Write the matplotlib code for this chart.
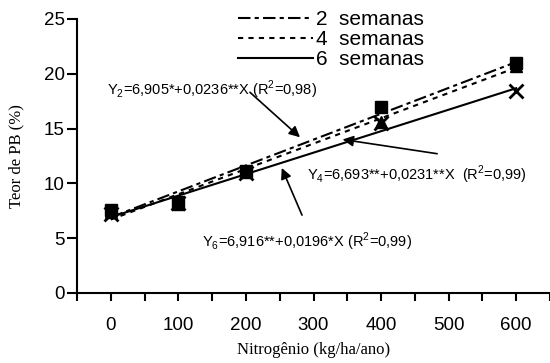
import numpy as np
import matplotlib
matplotlib.use("Agg")
import matplotlib.pyplot as plt

# doses de nitrogenio
doses = [0, 100, 200, 400, 600]
# teor de PB observado
pb_2sem = [7.6, 8.3, 11.1, 17.0, 21.0]
pb_4sem = [7.4, 8.1, 11.0, 15.6, 20.7]
pb_6sem = [7.2, 8.2, 10.9, 15.5, 18.4]
# coeficientes das regressoes (a, b)
reg_2sem = (6.905, 0.0236)
reg_4sem = (6.693, 0.0231)
reg_6sem = (6.916, 0.0196)

labels = ["2  semanas", "4  semanas", "6  semanas"]
eq_2 = "Y$_2$=6,905*+0,0236**X (R$^2$=0,98)"
eq_4 = "Y$_4$=6,693**+0,0231**X  (R$^2$=0,99)"
eq_6 = "Y$_6$=6,916**+0,0196*X (R$^2$=0,99)"

plt.rcParams['font.family'] = ['Liberation Sans', 'DejaVu Sans']
plt.rcParams['mathtext.fontset'] = 'custom'
plt.rcParams['mathtext.rm'] = 'Liberation Sans'

fig = plt.figure(figsize=(5.5, 3.63), dpi=100)
ax = fig.add_axes([0.14, 0.193, 0.86, 0.755])

xl = np.array([0, 600])

# linhas de regressao
l2, = ax.plot(xl, reg_2sem[0] + reg_2sem[1] * xl, color='black', lw=1.5,
              dashes=(6, 2, 2, 2))
l4, = ax.plot(xl, reg_4sem[0] + reg_4sem[1] * xl, color='black', lw=1.5,
              dashes=(2.5, 2.5))
l6, = ax.plot(xl, reg_6sem[0] + reg_6sem[1] * xl, color='black', lw=1.5)

# pontos observados
ax.plot(doses, pb_2sem, 's', color='black', ms=8, ls='none')
ax.plot(doses, pb_4sem, '^', color='black', ms=9, ls='none')
ax.plot(doses, pb_6sem, 'x', color='black', ms=10, mew=2, ls='none')

ax.set_xlim(-50, 648)
ax.set_ylim(0, 25)
ax.set_xticks(np.arange(-50, 651, 50))
ax.set_xticklabels(["" if (t % 100 or t < 0) else str(t) for t in range(-50, 651, 50)])
ax.set_yticks([0, 5, 10, 15, 20, 25])
ax.tick_params(axis='both', labelsize=13.5, direction='out', width=1.5)
ax.tick_params(axis='x', length=6, pad=11)
ax.tick_params(axis='y', length=7, pad=2)

for s in ['top', 'right']:
    ax.spines[s].set_visible(False)
for s in ['left', 'bottom']:
    ax.spines[s].set_linewidth(1.5)

ax.set_xlabel("Nitrogênio (kg/ha/ano)", family='Liberation Serif', fontsize=12, labelpad=6)
ax.set_ylabel("Teor de PB (%)", family='Liberation Serif', fontsize=12, labelpad=14)

leg = ax.legend([l2, l4, l6], labels, loc='upper left', bbox_to_anchor=(0.319, 1.07),
                frameon=False, fontsize=15, handlelength=3.6, handletextpad=0.15,
                labelspacing=0.05, borderpad=0)

ap = dict(arrowstyle='-|>', color='black', lw=1.2, mutation_scale=16, shrinkA=0, shrinkB=0)
ax.text(-5, 18.5, eq_2, fontsize=10.5, va='center')
ax.annotate("", xy=(280, 14.2), xytext=(206, 18.3), arrowprops=ap)
ax.text(290, 10.8, eq_4, fontsize=10.5, va='center')
ax.annotate("", xy=(343, 14.0), xytext=(483, 12.7), arrowprops=ap)
ax.text(135, 4.65, eq_6, fontsize=10.5, va='center')
ax.annotate("", xy=(253, 11.4), xytext=(283, 7.1), arrowprops=ap)

fig.savefig("out.png", dpi=100)
